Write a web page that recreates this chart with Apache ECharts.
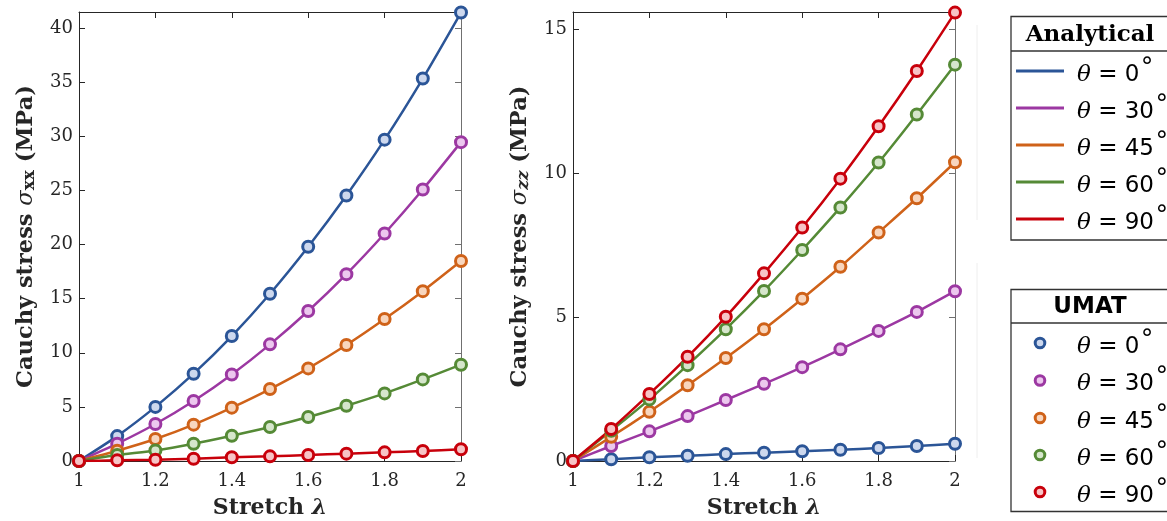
<!DOCTYPE html>
<html>
<head>
<meta charset="utf-8">
<script src="https://cdn.jsdelivr.net/npm/echarts@6/dist/echarts.min.js"></script>
<style>
html,body{margin:0;padding:0;background:#fff;}
#chart{width:1167px;height:521px;}
</style>
</head>
<body>
<div id="chart"></div>
<script>
// ---- data ----
const stretch = [1.0, 1.1, 1.2, 1.3, 1.4, 1.5, 1.6, 1.7, 1.8, 1.9, 2.0];
const thetaLabels = ['0', '30', '45', '60', '90'];
const xTickLabels = ['1', '1.2', '1.4', '1.6', '1.8', '2'];

// sigma_xx (MPa), left panel
const sxx0  = [0, 2.3, 5.0, 8.07, 11.55, 15.46, 19.8, 24.54, 29.7, 35.35, 41.45];
const sxx30 = [0, 1.6, 3.42, 5.54, 8.0, 10.78, 13.86, 17.27, 21.03, 25.1, 29.47];
const sxx45 = [0, 0.95, 2.03, 3.36, 4.93, 6.65, 8.56, 10.72, 13.12, 15.7, 18.48];
const sxx60 = [0, 0.55, 0.98, 1.6, 2.34, 3.14, 4.06, 5.11, 6.25, 7.54, 8.9];
const sxx90 = [0, 0.06, 0.12, 0.21, 0.34, 0.43, 0.55, 0.68, 0.8, 0.92, 1.08];

// sigma_zz (MPa), right panel
const szz0  = [0, 0.06, 0.13, 0.18, 0.24, 0.29, 0.34, 0.39, 0.45, 0.52, 0.6];
const szz30 = [0, 0.52, 1.03, 1.56, 2.12, 2.68, 3.26, 3.88, 4.52, 5.18, 5.9];
const szz45 = [0, 0.84, 1.71, 2.63, 3.58, 4.58, 5.64, 6.75, 7.94, 9.13, 10.38];
const szz60 = [0, 1.05, 2.14, 3.33, 4.58, 5.91, 7.33, 8.81, 10.37, 12.04, 13.77];
const szz90 = [0, 1.11, 2.33, 3.62, 5.01, 6.52, 8.11, 9.81, 11.63, 13.55, 15.58];

// ---- styles ----
const colors = ['#2b5597', '#9c38a2', '#cf6219', '#558a36', '#c8000b'];
const fills  = ['#cdd8ee', '#ecc8ee', '#f8d6be', '#d6e6cc', '#f7c4c6'];
const serif = 'DejaVu Serif';
const sans = 'DejaVu Sans';
const dark = '#262626';

const leftSets = [sxx0, sxx30, sxx45, sxx60, sxx90];
const rightSets = [szz0, szz30, szz45, szz60, szz90];

function pairs(ys){ return stretch.map((x,i)=>[x, ys[i]]); }

const series = [];
[leftSets, rightSets].forEach((sets, g) => {
  sets.forEach((ys, k) => {
    series.push({
      type: 'line', name: 'Analytical ' + thetaLabels[k],
      xAxisIndex: g*2, yAxisIndex: g*2,
      data: pairs(ys), smooth: 0.2,
      showSymbol: false, symbol: 'none',
      lineStyle: {color: colors[k], width: 2.5},
      itemStyle: {color: colors[k]},
      z: 2, animation: false
    });
  });
  sets.forEach((ys, k) => {
    series.push({
      type: 'scatter', name: 'UMAT ' + thetaLabels[k],
      xAxisIndex: g*2, yAxisIndex: g*2,
      data: pairs(ys), symbol: 'circle', symbolSize: 11,
      itemStyle: {color: fills[k], borderColor: colors[k], borderWidth: 3, opacity: 1},
      z: 3, animation: false
    });
  });
});

function xAxes(grid){
  return [
    {
      type: 'value', gridIndex: grid, position: 'bottom', min: 1, max: 2, interval: 0.2,
      axisLine: {show: true, onZero: false, lineStyle: {color: dark, width: 1}},
      axisTick: {show: true, inside: true, length: 6, lineStyle: {color: dark}},
      axisLabel: {color: dark, fontFamily: serif, fontSize: 18, margin: 11,
        formatter: v => xTickLabels[Math.round((v - 1) / 0.2)] ?? ''},
      splitLine: {show: false},
      name: '{b|Stretch }{l|λ}', nameLocation: 'middle', nameGap: 36,
      nameTextStyle: {rich: {
        b: {fontFamily: serif, fontWeight: 'bold', fontSize: 22, color: dark},
        l: {fontFamily: serif, fontWeight: 'bold', fontStyle: 'italic', fontSize: 22, color: dark}
      }}
    },
    {
      type: 'value', gridIndex: grid, position: 'top', min: 1, max: 2, interval: 0.2,
      axisLine: {show: true, onZero: false, lineStyle: {color: dark, width: 1}},
      axisTick: {show: true, inside: true, length: 6, lineStyle: {color: dark}},
      axisLabel: {show: false}, splitLine: {show: false}
    }
  ];
}
function yAxes(grid, max, sub, subItalic){
  return [
    {
      type: 'value', gridIndex: grid, position: 'left', min: 0, max: max, interval: 5,
      axisLine: {show: true, onZero: false, lineStyle: {color: dark, width: 1}},
      axisTick: {show: true, inside: true, length: 6, lineStyle: {color: dark}},
      axisLabel: {color: dark, fontFamily: serif, fontSize: 18, margin: 6, showMaxLabel: false},
      splitLine: {show: false},
      name: '{b|Cauchy stress }{s|σ}{sub|' + sub + '}{b| (MPa)}',
      nameLocation: 'middle', nameGap: 41,
      nameTextStyle: {rich: {
        b: {fontFamily: serif, fontWeight: 'bold', fontSize: 22.5, color: dark},
        s: {fontFamily: serif, fontStyle: 'italic', fontSize: 22.5, color: dark},
        sub: {fontFamily: serif, fontWeight: 'bold', fontStyle: subItalic ? 'italic' : 'normal',
              fontSize: 17, color: dark, verticalAlign: 'bottom'}
      }}
    },
    {
      type: 'value', gridIndex: grid, position: 'right', min: 0, max: max, interval: 5,
      axisLine: {show: true, onZero: false, lineStyle: {color: '#707070', width: 1}},
      axisTick: {show: true, inside: true, length: 6, lineStyle: {color: '#707070'}},
      axisLabel: {show: false}, splitLine: {show: false}
    }
  ];
}

// ---- legend (drawn boxes) ----
const legX = 1011, legW = 170;
const graphic = [];
graphic.push({type: 'line', shape: {x1: 977, y1: 25, x2: 977, y2: 220}, style: {stroke: '#eeeeee', lineWidth: 1}, silent: true});
graphic.push({type: 'line', shape: {x1: 977, y1: 263, x2: 977, y2: 458}, style: {stroke: '#eeeeee', lineWidth: 1}, silent: true});

function legendBox(top, bottom, divider, title, titleFont, titleWeight){
  graphic.push({type: 'rect', shape: {x: legX, y: top, width: legW, height: bottom - top},
    style: {fill: '#fff', stroke: '#333', lineWidth: 1.3}, z: 10});
  graphic.push({type: 'line', shape: {x1: legX, y1: divider, x2: legX + legW, y2: divider},
    style: {stroke: '#333', lineWidth: 1.3}, z: 11});
  graphic.push({type: 'text', x: 1090, y: (top + divider) / 2 + 1, z: 12,
    style: {text: title, fontFamily: titleFont, fontWeight: titleWeight, fontSize: 23,
      fill: '#000', align: 'center', verticalAlign: 'middle'}});
}
const measureCtx = document.createElement('canvas').getContext('2d');
function textW(str, font){ measureCtx.font = font; return measureCtx.measureText(str).width; }
const itemRich = {
  t: {fontFamily: serif, fontStyle: 'italic', fontSize: 23, fill: '#000', color: '#000'},
  n: {fontFamily: sans, fontSize: 23, fill: '#000', color: '#000'}
};
function legendText(y, k){
  const x0 = 1077;
  graphic.push({type: 'text', x: x0, y: y + 4, z: 12,
    style: {text: '{t|θ}{n| = ' + thetaLabels[k] + '}', rich: itemRich,
      align: 'left', verticalAlign: 'middle'}});
  const w = textW('θ', 'italic 23px "DejaVu Serif"') + textW(' = ' + thetaLabels[k], '23px "DejaVu Sans"');
  graphic.push({type: 'text', x: x0 + w, y: y - 10, z: 12,
    style: {text: '∘', fontFamily: sans, fontSize: 25, fill: '#000',
      align: 'left', verticalAlign: 'middle'}});
}
legendBox(16.5, 240, 51, 'Analytical', serif, 'bold');
const lineYs = [71, 108, 145, 182, 219];
lineYs.forEach((y, k) => {
  graphic.push({type: 'line', shape: {x1: 1016, y1: y, x2: 1064, y2: y},
    style: {stroke: colors[k], lineWidth: 3}, z: 12});
  legendText(y, k);
});
legendBox(289.5, 511.5, 323, 'UMAT', sans, 'bold');
const dotYs = [343, 380.5, 418, 455, 492];
dotYs.forEach((y, k) => {
  graphic.push({type: 'circle', shape: {cx: 1040, cy: y, r: 4.8},
    style: {fill: fills[k], stroke: colors[k], lineWidth: 3}, z: 12});
  legendText(y, k);
});

const option = {
  backgroundColor: '#ffffff',
  animation: false,
  grid: [
    {left: 79, top: 12, width: 382, height: 449, outerBoundsMode: 'none', containLabel: false},
    {left: 573, top: 12, width: 382, height: 449, outerBoundsMode: 'none', containLabel: false}
  ],
  xAxis: [...xAxes(0), ...xAxes(1)],
  yAxis: [...yAxes(0, 41.5, 'xx', false), ...yAxes(1, 15.6, 'zz', true)],
  series: series,
  graphic: graphic
};

const chart = echarts.init(document.getElementById('chart'), null, {renderer: 'canvas'});
chart.setOption(option);
</script>
</body>
</html>
